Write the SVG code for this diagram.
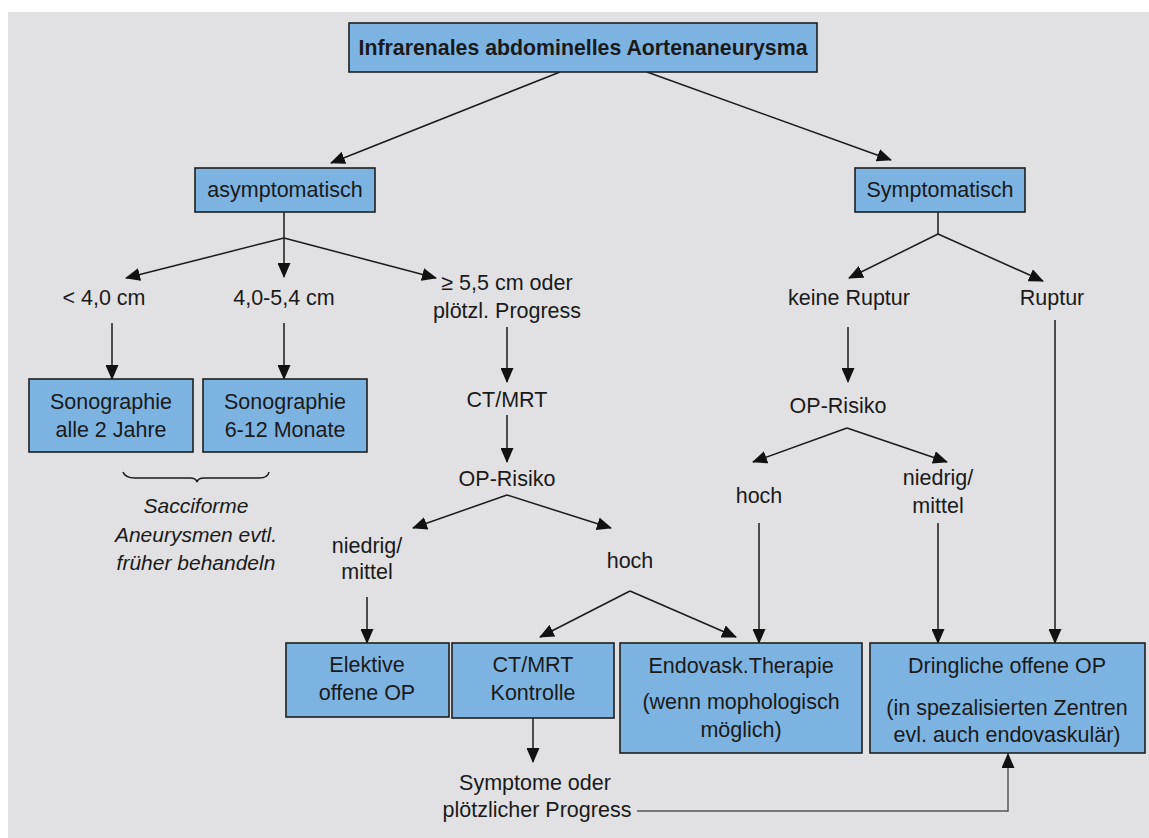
<svg xmlns="http://www.w3.org/2000/svg" width="1149" height="838" viewBox="0 0 1149 838">
<defs>
<marker id="ah" markerUnits="userSpaceOnUse" markerWidth="15" markerHeight="13" refX="14" refY="6.5" orient="auto">
<path d="M0,0 L15,6.5 L0,13 z" fill="#111"/>
</marker>
<style>
.bg{fill:#e1e1e3}
.box{fill:#7db3e1;stroke:#1f1f1f;stroke-width:1.6}
.t{font-family:"Liberation Sans",Arial,sans-serif;font-size:21.5px;fill:#1a1a1a;text-anchor:middle}
.ti{font-style:italic;font-size:21px}
.tb{font-weight:bold;font-size:21.3px}
.c{fill:none;stroke:#1a1a1a;stroke-width:1.5}
.a{marker-end:url(#ah)}
.g{stroke:#555}
</style>
</defs>
<rect x="0" y="0" width="1149" height="838" fill="#ffffff"/>
<rect class="bg" x="8" y="12" width="1141" height="826"/>

<g id="connectors">
<line class="c a" x1="560" y1="72" x2="331" y2="163"/>
<line class="c a" x1="647" y1="72" x2="891" y2="160"/>
<line class="c" x1="284" y1="212" x2="284" y2="238"/>
<line class="c a" x1="284" y1="238" x2="126" y2="278"/>
<line class="c a" x1="284" y1="238" x2="284" y2="277"/>
<line class="c a" x1="284" y1="238" x2="436" y2="278"/>
<line class="c a" x1="112" y1="323" x2="112" y2="379"/>
<line class="c a" x1="284" y1="323" x2="284" y2="379"/>
<line class="c a" x1="507" y1="327" x2="507" y2="382"/>
<line class="c a" x1="507" y1="415" x2="507" y2="462"/>
<line class="c a" x1="507" y1="495" x2="413" y2="528"/>
<line class="c a" x1="507" y1="495" x2="611" y2="528"/>
<line class="c a" x1="367" y1="597" x2="367" y2="643"/>
<line class="c a" x1="630" y1="591" x2="540" y2="637"/>
<line class="c a" x1="630" y1="591" x2="736" y2="637"/>
<line class="c a" x1="533" y1="718" x2="533" y2="762"/>
<polyline class="c a g" points="637,811 1008,811 1008,754"/>
<line class="c" x1="938" y1="212" x2="938" y2="234"/>
<line class="c a" x1="938" y1="234" x2="849" y2="278"/>
<line class="c a" x1="938" y1="234" x2="1043" y2="281"/>
<line class="c a" x1="848" y1="327" x2="848" y2="382"/>
<line class="c a" x1="847" y1="428" x2="753" y2="462"/>
<line class="c a" x1="847" y1="428" x2="947" y2="462"/>
<line class="c a" x1="759" y1="523" x2="759" y2="643"/>
<line class="c a" x1="938" y1="523" x2="938" y2="643"/>
<line class="c a" x1="1055" y1="320" x2="1055" y2="643"/>
<path class="c" d="M123,472 Q125,478 135,478 L190,478 Q196,478 197,482 Q198,478 204,478 L259,478 Q268,478 269,472"/>
</g>

<g id="n-top">
<rect class="box" x="349" y="23" width="468" height="49"/>
<text class="t tb" x="583" y="55">Infrarenales abdominelles Aortenaneurysma</text>
</g>
<g id="n-asym">
<rect class="box" x="195" y="168" width="180" height="44"/>
<text class="t" x="285" y="197">asymptomatisch</text>
</g>
<g id="n-sym">
<rect class="box" x="855" y="168" width="170" height="44"/>
<text class="t" x="940" y="197">Symptomatisch</text>
</g>
<g id="l-lt4">
<text class="t" x="104" y="305">&lt; 4,0 cm</text>
</g>
<g id="l-4054">
<text class="t" x="284" y="305">4,0-5,4 cm</text>
</g>
<g id="l-ge55">
<text class="t" x="507" y="290">≥ 5,5 cm oder</text>
<text class="t" x="507" y="318">plötzl. Progress</text>
</g>
<g id="n-sono1">
<rect class="box" x="29" y="379" width="164" height="73"/>
<text class="t" x="111" y="409">Sonographie</text>
<text class="t" x="111" y="437">alle 2 Jahre</text>
</g>
<g id="n-sono2">
<rect class="box" x="203" y="379" width="164" height="73"/>
<text class="t" x="285" y="409">Sonographie</text>
<text class="t" x="285" y="437">6-12 Monate</text>
</g>
<g id="l-sacc">
<text class="t ti" x="196" y="513">Sacciforme</text>
<text class="t ti" x="196" y="542">Aneurysmen evtl.</text>
<text class="t ti" x="196" y="570">früher behandeln</text>
</g>
<g id="l-ctmrt">
<text class="t" x="507" y="407">CT/MRT</text>
</g>
<g id="l-oprisiko1">
<text class="t" x="507" y="486">OP-Risiko</text>
</g>
<g id="l-niedrig1">
<text class="t" x="367" y="553">niedrig/</text>
<text class="t" x="367" y="579">mittel</text>
</g>
<g id="l-hoch1">
<text class="t" x="630" y="568">hoch</text>
</g>
<g id="n-elektiv">
<rect class="box" x="286" y="643" width="163" height="74"/>
<text class="t" x="367" y="672">Elektive</text>
<text class="t" x="367" y="700">offene OP</text>
</g>
<g id="n-ctkontrolle">
<rect class="box" x="452" y="643" width="162" height="75"/>
<text class="t" x="533" y="672">CT/MRT</text>
<text class="t" x="533" y="700">Kontrolle</text>
</g>
<g id="l-symptome">
<text class="t" x="535" y="790">Symptome oder</text>
<text class="t" x="537" y="817">plötzlicher Progress</text>
</g>
<g id="n-endo">
<rect class="box" x="620" y="643" width="242" height="110"/>
<text class="t" x="741" y="673">Endovask.Therapie</text>
<text class="t" x="741" y="709">(wenn mophologisch</text>
<text class="t" x="741" y="737">möglich)</text>
</g>
<g id="n-dring">
<rect class="box" x="870" y="643" width="275" height="110"/>
<text class="t" x="1007" y="673">Dringliche offene OP</text>
<text class="t" x="1007" y="715">(in spezalisierten Zentren</text>
<text class="t" x="1007" y="742">evl. auch endovaskulär)</text>
</g>
<g id="l-keine">
<text class="t" x="849" y="305">keine Ruptur</text>
</g>
<g id="l-ruptur">
<text class="t" x="1052" y="305">Ruptur</text>
</g>
<g id="l-oprisiko2">
<text class="t" x="838" y="413">OP-Risiko</text>
</g>
<g id="l-hoch2">
<text class="t" x="759" y="503">hoch</text>
</g>
<g id="l-niedrig2">
<text class="t" x="938" y="485">niedrig/</text>
<text class="t" x="938" y="513">mittel</text>
</g>
</svg>
